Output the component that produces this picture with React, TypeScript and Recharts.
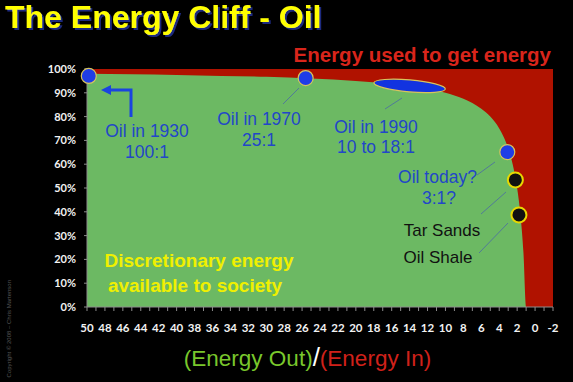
import { ComposedChart, Area, XAxis, YAxis, ReferenceArea, ReferenceDot } from 'recharts';

// energy returned on energy invested (x) and the share left over for society (%)
const eroi = [50, 45, 40, 35, 30, 25, 20, 17, 14, 12, 10, 8, 7, 6, 5, 4, 3.5, 3, 2.5, 2, 1.6, 1.3, 1, 0, -2];
const netEnergy = [98, 97.8, 97.5, 97.1, 96.7, 96, 95, 94.1, 92.9, 91.7, 90, 87.5, 85.7, 83.3, 80, 75, 71.4, 66.7, 60, 50, 37.5, 23, 0, 0, 0];
const grossEnergy = 100;

const yTicks = [0, 10, 20, 30, 40, 50, 60, 70, 80, 90, 100];
const xLabels = [50, 48, 46, 44, 42, 40, 38, 36, 34, 32, 30, 28, 26, 24, 22, 20, 18, 16, 14, 12, 10, 8, 6, 4, 2, 0, -2];

// marked sources on the curve
const sourceNames = ['Oil in 1930', 'Oil in 1970', 'Oil today', 'Tar Sands', 'Oil Shale'];
const sourceX = [49.8, 25.6, 3.1, 2.2, 1.8];
const sourceY = [97.1, 96.2, 65.1, 53.4, 38.7];
const sourceConventional = [true, true, true, false, false];
const oil1990Range = [18, 10];
const oil1990Share = [90.4, 95.4];

const curve = eroi.map((x, i) => ({ x, gross: grossEnergy, net: netEnergy[i] }));
const minorTicks = Array.from({ length: 53 }, (_, i) => 50 - i);

const RED = '#b01200';
const GREEN = '#6cb963';
const BLUE_TEXT = '#2247c8';
const LEADER = '#4a6aa6';
const AXIS = '#8c8c8c';

function XTick(props: any) {
  const { x, y, payload } = props;
  if (!xLabels.includes(payload.value)) return <g />;
  return (
    <text x={x} y={y + 21} textAnchor="middle" fill="#f2f2f2" fontSize={11.5} fontWeight={700} fontFamily="Lato">
      {payload.value}
    </text>
  );
}

function Ellipse(props: any) {
  const { x, y, width, height } = props;
  const cx = x + width / 2;
  const cy = y + height / 2;
  return (
    <ellipse
      cx={cx}
      cy={cy}
      rx={Math.abs(width) / 2}
      ry={Math.abs(height) / 2}
      transform={`rotate(5 ${cx} ${cy})`}
      fill="#1233e0"
      stroke="#d8c45c"
      strokeWidth={1.2}
    />
  );
}

const label = { fontFamily: 'Liberation Sans', fontSize: 17.5, textAnchor: 'middle' as const };

export default function App() {
  return (
    <div style={{ position: 'fixed', left: 0, top: 0, width: 573, height: 382, background: '#000', overflow: 'hidden' }}>
      <ComposedChart width={573} height={382} data={curve} margin={{ top: 69, right: 20, bottom: 45, left: 0 }}>
        <XAxis
          dataKey="x"
          type="number"
          domain={[-2, 50]}
          reversed
          ticks={minorTicks}
          interval={0}
          tick={<XTick />}
          tickLine={{ stroke: AXIS }}
          tickSize={4}
          tickMargin={0}
          axisLine={{ stroke: AXIS }}
          height={30}
          allowDataOverflow
        />
        <YAxis
          type="number"
          domain={[0, 100]}
          ticks={yTicks}
          interval={0}
          tickFormatter={(v) => `${v}%`}
          width={87}
          tickSize={3}
          tickMargin={8}
          tick={{ fill: '#f2f2f2', fontSize: 11, fontWeight: 700, fontFamily: 'Lato' }}
          tickLine={{ stroke: AXIS }}
          axisLine={{ stroke: AXIS }}
        />
        <Area dataKey="gross" type="linear" fill={RED} fillOpacity={1} stroke="none" isAnimationActive={false} />
        <Area dataKey="net" type="monotone" fill={GREEN} fillOpacity={1} stroke="none" isAnimationActive={false} />
        <ReferenceArea
          x1={oil1990Range[0]}
          x2={oil1990Range[1]}
          y1={oil1990Share[0]}
          y2={oil1990Share[1]}
          shape={<Ellipse />}
          ifOverflow="visible"
        />
        {sourceNames.map((name, i) => (
          <ReferenceDot
            key={name}
            x={sourceX[i]}
            y={sourceY[i]}
            r={7.5}
            fill={sourceConventional[i] ? '#1f3de6' : '#111'}
            stroke={sourceConventional[i] ? '#d8c45c' : '#e8d800'}
            strokeWidth={sourceConventional[i] ? 1.2 : 2}
            ifOverflow="visible"
          />
        ))}
      </ComposedChart>

      <svg width={573} height={382} style={{ position: 'absolute', left: 0, top: 0, pointerEvents: 'none' }}>
        <defs>
          <filter id="titleShadow" x="-5%" y="-20%" width="110%" height="150%">
            <feDropShadow dx={2} dy={2} stdDeviation={0.4} floodColor="#1c2a80" floodOpacity={1} />
          </filter>
        </defs>
        <text x={5} y={28} fontFamily="Liberation Sans" fontWeight={700} fontSize={32} fill="#ffff00" filter="url(#titleShadow)">
          The Energy Cliff - Oil
        </text>
        <text x={551} y={62} textAnchor="end" fontFamily="Liberation Sans" fontWeight={700} fontSize={20.5} fill="#d9251b">
          Energy used to get energy
        </text>

        <text x={307.5} y={366} textAnchor="middle" fontFamily="Liberation Sans" fontSize={22.5}>
          <tspan fill="#79c72c">(Energy Out)</tspan>
          <tspan fill="#fff" fontSize={26}>/</tspan>
          <tspan fill="#d0211a">(Energy In)</tspan>
        </text>

        <text transform="translate(11 280) rotate(-90)" textAnchor="end" fontFamily="Liberation Sans" fontSize={6} fill="#555">
          Copyright © 2008 – Chris Martenson
        </text>

        <g fill={BLUE_TEXT} {...label}>
          <text x={147} y={137}>Oil in 1930</text>
          <text x={147} y={158}>100:1</text>
          <text x={259} y={125}>Oil in 1970</text>
          <text x={259} y={146}>25:1</text>
          <text x={376} y={133}>Oil in 1990</text>
          <text x={376} y={153}>10 to 18:1</text>
          <text x={437.5} y={183}>Oil today?</text>
          <text x={439} y={204}>3:1?</text>
        </g>
        <g fill="#111" {...label} fontSize={17}>
          <text x={442} y={236}>Tar Sands</text>
          <text x={438} y={263}>Oil Shale</text>
        </g>
        <g fill="#f0f000" fontFamily="Liberation Sans" fontWeight={700} fontSize={19} textAnchor="middle">
          <text x={199} y={267}>Discretionary energy</text>
          <text x={195} y={292}>available to society</text>
        </g>

        <g stroke={LEADER} strokeWidth={0.8}>
          <line x1={299} y1={88} x2={283} y2={104} />
          <line x1={402} y1={98} x2={385} y2={109} />
          <line x1={495} y1={162} x2={477} y2={175} />
          <line x1={506} y1={192} x2={481} y2={214} />
          <line x1={508} y1={223} x2={479} y2={253} />
        </g>

        <polyline points="131,117 131,90 109,90" fill="none" stroke="#1a44e0" strokeWidth={3} />
        <polygon points="101,90 111,85 111,95" fill="#1a44e0" />
      </svg>
    </div>
  );
}
